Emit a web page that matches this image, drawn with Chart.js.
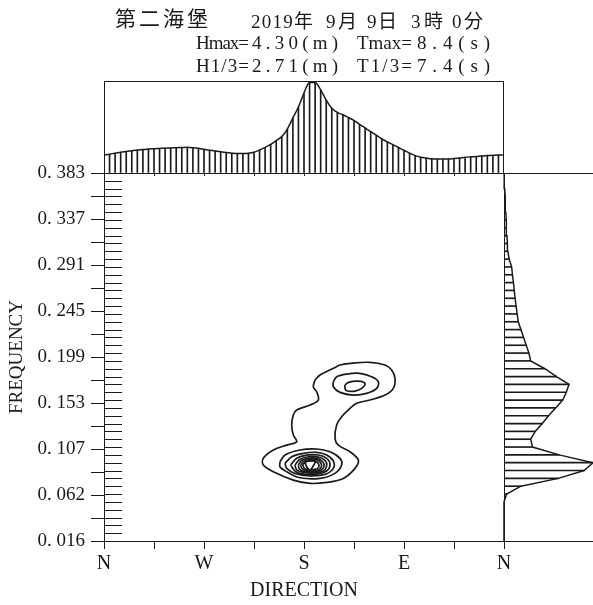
<!DOCTYPE html>
<html>
<head>
<meta charset="utf-8">
<script src="https://cdn.jsdelivr.net/npm/chart.js@4/dist/chart.umd.min.js"></script>
<style>
  html, body { margin: 0; padding: 0; background: #fff; }
  #wrap { position: relative; width: 593px; height: 605px; overflow: hidden; background: #fff; }
  canvas { position: absolute; }
  #main { left: 0; top: 0; }
  #dirPanel { left: 0; top: 0; }
  #freqPanel { left: 494px; top: 163px; }
  .t { position: absolute; white-space: pre; color: #1a1a1a;
       font-family: "Liberation Serif", "Noto Sans CJK JP", serif; font-size: 19px; line-height: 19px; }
  .cjk { font-family: "Noto Sans CJK JP", sans-serif; }
</style>
</head>
<body>
<div id="wrap">
  <canvas id="main" width="593" height="605"></canvas>
  <canvas id="dirPanel" width="593" height="178"></canvas>
  <canvas id="freqPanel" width="99" height="390"></canvas>

  <div class="t cjk" style="left:115px;top:7px;font-size:21px;line-height:21px" data-w="93">第二海堡</div>
  <div class="t" style="left:251px;top:12px" data-w="62">2019年</div>
  <div class="t" style="left:326px;top:12px" data-w="31">9月</div>
  <div class="t" style="left:367px;top:12px" data-w="30">9日</div>
  <div class="t" style="left:411px;top:12px" data-w="32">3時</div>
  <div class="t" style="left:452px;top:12px" data-w="31">0分</div>

  <div class="t" style="left:196px;top:33px" data-w="53">Hmax=</div>
  <div class="t" style="left:252px;top:33px" data-w="86">4.30(m)</div>
  <div class="t" style="left:357px;top:33px" data-w="55">Tmax=</div>
  <div class="t" style="left:417px;top:33px" data-w="73">8.4(s)</div>

  <div class="t" style="left:196px;top:56px" data-w="53">H1/3=</div>
  <div class="t" style="left:252px;top:56px" data-w="86">2.71(m)</div>
  <div class="t" style="left:357px;top:56px" data-w="55">T1/3=</div>
  <div class="t" style="left:417px;top:56px" data-w="73">7.4(s)</div>
</div>

<script>
// ---- frequency grid (Hz): bins of 1/128 Hz from 2/128 to 49/128 ----
const FMIN = 2 / 128;
const FMAX = 49 / 128;
const freqBins = [];
for (let k = 2; k <= 49; k++) freqBins.push(k / 128);

// normalised frequency spectrum, one value per frequency bin (low -> high)
const spectrum = [
  0, 0, 0, 0, 0, 0,
  0.03, 0.19, 0.61, 0.90, 1.00, 0.62, 0.32, 0.30, 0.35, 0.43,
  0.50, 0.58, 0.66, 0.70, 0.73, 0.59, 0.46, 0.30, 0.28, 0.25,
  0.22, 0.19, 0.16, 0.148, 0.136, 0.125, 0.115, 0.106, 0.095, 0.086,
  0.058, 0.043, 0.038, 0.033, 0.028, 0.024, 0.020, 0.016, 0.012, 0.008,
  0.004, 0
];

// ---- direction grid: 5 degree bins along the axis N - W - S - E - N ----
const dirBins = [];
for (let d = 0; d <= 360; d += 5) dirBins.push(d);

// normalised directional distribution, one value per direction bin
const dirDist = [
  0.196, 0.204, 0.216, 0.226, 0.234, 0.242, 0.250, 0.255, 0.260, 0.264,
  0.267, 0.270, 0.272, 0.275, 0.277, 0.279, 0.275, 0.268, 0.257, 0.248,
  0.239, 0.230, 0.222, 0.216, 0.212, 0.212, 0.215, 0.226, 0.249, 0.278,
  0.310, 0.352, 0.396, 0.478, 0.600, 0.717, 0.870, 0.985, 0.985, 0.904,
  0.792, 0.704, 0.658, 0.633, 0.603, 0.571, 0.529, 0.490, 0.450, 0.411,
  0.372, 0.338, 0.309, 0.277, 0.247, 0.216, 0.189, 0.172, 0.162, 0.154,
  0.152, 0.152, 0.152, 0.157, 0.163, 0.171, 0.176, 0.180, 0.186, 0.189,
  0.192, 0.195, 0.196
];

// ---- axis tick labels ----
const dirTickPos = [0, 45, 90, 135, 180, 225, 270, 315, 360];
const dirTickLabels = ['N', '', 'W', '', 'S', '', 'E', '', 'N'];
const freqTickLabels = ['0. 016', '0. 062', '0. 107', '0. 153', '0. 199',
                        '0. 245', '0. 291', '0. 337', '0. 383'];

// ---- contour rings of the directional spectrum: [direction, frequency] ----
const ringOuter = [
  [189.9,0.1762],[194.4,0.1812],[206.4,0.1879],[212.4,0.1912],[221.4,0.1929],
  [239.4,0.1939],[252.9,0.1912],[258.9,0.1862],[261.9,0.1779],[260.4,0.1679],
  [252.9,0.1612],[239.4,0.1563],[227.4,0.1530],[221.4,0.1480],[213.9,0.1396],
  [209.4,0.1313],[207.9,0.1180],[210.9,0.1113],[221.4,0.1047],[228.9,0.0964],
  [225.9,0.0881],[215.4,0.0781],[200.4,0.0741],[185.4,0.0731],[170.4,0.0764],
  [152.4,0.0847],[143.4,0.0914],[143.4,0.0981],[152.4,0.1064],[164.4,0.1113],
  [173.4,0.1146],[170.4,0.1213],[168.9,0.1313],[170.4,0.1413],[173.4,0.1463],
  [185.4,0.1513],[192.9,0.1563],[191.4,0.1645],[188.4,0.1695],[189.9,0.1762]
];
const ringUpper2 = [
  [206.4,0.1745],[209.4,0.1795],[218.4,0.1822],[230.4,0.1829],[240.9,0.1795],
  [246.9,0.1745],[245.4,0.1679],[236.4,0.1629],[224.4,0.1612],[212.4,0.1639],
  [206.4,0.1695],[206.4,0.1745]
];
const ringUpper3 = [
  [216.9,0.1712],[219.9,0.1739],[228.9,0.1752],[234.9,0.1729],[231.9,0.1679],
  [225.9,0.1652],[218.4,0.1655],[216.9,0.1679],[216.9,0.1712]
];
const ringLower2 = [
  [158.4,0.0947],[162.9,0.1014],[176.4,0.1064],[191.4,0.1074],[203.4,0.1047],
  [212.4,0.0981],[213.9,0.0914],[207.9,0.0831],[194.4,0.0781],[176.4,0.0787],
  [164.4,0.0847],[158.4,0.0897],[158.4,0.0947]
];
const ringLower3 = [
  [162.9,0.0931],[168.9,0.0997],[179.4,0.1031],[191.4,0.1041],[200.4,0.1014],
  [206.4,0.0954],[206.4,0.0881],[198.9,0.0821],[185.4,0.0807],[171.9,0.0831],
  [164.4,0.0881],[162.9,0.0931]
];
const ringLower4 = [
  [168.0,0.0914],[173.4,0.0981],[182.4,0.1014],[192.9,0.1014],[200.4,0.0981],
  [203.4,0.0921],[200.4,0.0854],[189.9,0.0821],[179.4,0.0824],[171.9,0.0854],
  [168.0,0.0914]
];
const ringLower5 = [
  [171.9,0.0914],[175.8,0.0967],[183.9,0.0997],[192.9,0.0994],[198.9,0.0961],
  [200.4,0.0907],[197.4,0.0854],[188.4,0.0834],[179.4,0.0841],[173.4,0.0867],
  [171.9,0.0914]
];
const ringLower6 = [
  [174.9,0.0914],[177.9,0.0961],[184.8,0.0984],[192.0,0.0981],[196.8,0.0947],
  [198.0,0.0901],[195.0,0.0861],[187.8,0.0844],[180.0,0.0851],[175.8,0.0877],
  [174.9,0.0914]
];
const ringLower7 = [
  [177.0,0.0914],[180.0,0.0954],[185.4,0.0971],[191.4,0.0967],[195.0,0.0937],
  [195.6,0.0894],[192.6,0.0864],[186.9,0.0854],[180.9,0.0861],[177.9,0.0884],
  [177.0,0.0914]
];
const ringLower8 = [
  [178.8,0.0914],[181.8,0.0947],[186.3,0.0957],[190.8,0.0951],[193.2,0.0924],
  [193.2,0.0891],[189.9,0.0871],[184.8,0.0867],[180.3,0.0881],[178.8,0.0914]
];
const ringLower9 = [
  [180.9,0.0947],[189.9,0.0954],[188.4,0.0907],[185.4,0.0864],[182.4,0.0897],
  [180.9,0.0947]
];
const contourRings = [ringOuter, ringUpper2, ringUpper3, ringLower2, ringLower3,
  ringLower4, ringLower5, ringLower6, ringLower7, ringLower8, ringLower9];

// ---------------------------------------------------------------------------
Chart.defaults.font.family = '"Liberation Serif", serif';
Chart.defaults.font.size = 19;
Chart.defaults.color = '#222';

const INK = '#1a1a1a';

// short frequency-bin markers along the inner left edge of the main panel
const binMarks = {
  id: 'binMarks',
  afterDatasetsDraw(chart) {
    const { ctx, chartArea, scales: { y } } = chart;
    ctx.save();
    ctx.strokeStyle = INK;
    ctx.lineWidth = 1;
    freqBins.forEach(f => {
      if (f <= FMIN || f >= FMAX) return;
      const py = Math.round(y.getPixelForValue(f)) + 0.5;
      ctx.beginPath();
      ctx.moveTo(chartArea.left, py);
      ctx.lineTo(chartArea.left + 18, py);
      ctx.stroke();
    });
    ctx.restore();
  }
};

// frame lines along chosen sides of a panel's plotting area
const makeFrame = (sides) => ({
  id: 'frame',
  afterDraw(chart) {
    const { ctx, chartArea: a } = chart;
    const L = Math.round(a.left), R = Math.round(a.right) - 1;
    const T = Math.round(a.top), B = Math.round(a.bottom);
    ctx.save();
    ctx.fillStyle = INK;
    if (sides.left)   ctx.fillRect(L, T, 1, B - T + 1);
    if (sides.right)  ctx.fillRect(R, T, 1, B - T + 1);
    if (sides.top)    ctx.fillRect(L, T, a.right - L, 1);
    if (sides.bottom) ctx.fillRect(L, B, a.right - L, 1);
    ctx.restore();
  }
});

const basePlugins = { legend: { display: false }, tooltip: { enabled: false } };

// main panel: direction x frequency contours
new Chart(document.getElementById('main'), {
  type: 'scatter',
  data: {
    datasets: contourRings.map(ring => ({
      data: ring.map(([d, f]) => ({ x: d, y: f })),
      showLine: true,
      borderColor: INK,
      borderWidth: 1.7,
      pointRadius: 0,
      tension: 0.35,
      fill: false
    }))
  },
  options: {
    responsive: false,
    animation: false,
    events: [],
    layout: { padding: { left: 0, top: 173, right: 89, bottom: 0 } },
    plugins: basePlugins,
    scales: {
      x: {
        type: 'linear', min: 0, max: 360, position: 'bottom',
        afterBuildTicks: s => { s.ticks = dirTickPos.map(v => ({ value: v })); },
        ticks: { autoSkip: false, maxRotation: 0, padding: 3, color: INK,
                 font: { size: 20 }, callback: (v, i) => dirTickLabels[i] },
        grid: { drawOnChartArea: false, drawTicks: true, tickLength: 8, color: INK, lineWidth: 1 },
        border: { display: true, color: INK, width: 1 },
        title: { display: true, text: 'DIRECTION', color: INK, font: { size: 20 },
                 padding: { top: 0, bottom: 2 } },
        afterFit: s => { s.height = 64; }
      },
      y: {
        type: 'linear', min: FMIN, max: FMAX, position: 'left',
        afterBuildTicks: s => {
          const t = [];
          for (let i = 0; i <= 16; i++) t.push({ value: FMIN + (FMAX - FMIN) * i / 16 });
          s.ticks = t;
        },
        ticks: { autoSkip: false, padding: 6, color: INK, font: { size: 19 },
                 callback: (v, i) => (i % 2 ? '' : freqTickLabels[i / 2]) },
        grid: { drawOnChartArea: false, drawTicks: true, tickLength: 13, color: INK, lineWidth: 1 },
        border: { display: true, color: INK, width: 1 },
        title: { display: true, text: 'FREQUENCY', color: INK, font: { size: 19 },
                 padding: { top: 6, bottom: 0 } },
        afterFit: s => { s.width = 104; }
      }
    }
  },
  plugins: [binMarks]
});

// axis that only carries the scale, drawing nothing itself
const quietAxis = (pos, extra) => Object.assign({
  position: pos,
  offset: false,
  ticks: { display: false },
  grid: { drawOnChartArea: false, drawTicks: false, offset: false },
  border: { display: false }
}, extra);

// top panel: directional distribution (hatched)
const dirPoints = dirBins.map((d, i) => ({ x: d, y: dirDist[i] }));
new Chart(document.getElementById('dirPanel'), {
  type: 'bar',
  data: {
    datasets: [
      { type: 'line', data: dirPoints, xAxisID: 'x', yAxisID: 'y',
        borderColor: INK, borderWidth: 1.5, pointRadius: 0,
        cubicInterpolationMode: 'monotone', fill: false },
      { type: 'bar', data: dirPoints, xAxisID: 'x', yAxisID: 'y',
        backgroundColor: INK, borderWidth: 0, barThickness: 1 }
    ]
  },
  options: {
    responsive: false,
    animation: false,
    events: [],
    layout: { padding: { left: 104, top: 81, right: 89, bottom: 5 } },
    plugins: basePlugins,
    scales: {
      x: {
        type: 'linear', min: 0, max: 360, position: 'bottom', offset: false,
        afterBuildTicks: s => { s.ticks = dirTickPos.map(v => ({ value: v })); },
        ticks: { display: false },
        grid: { drawOnChartArea: false, drawTicks: true, tickLength: 3, color: INK, offset: false },
        border: { display: true, color: INK, width: 1 },
        afterFit: s => { s.height = 0; }
      },
      y: quietAxis('left', { axis: 'y', type: 'linear', min: 0, max: 1,
                            afterFit: s => { s.width = 0; } })
    }
  },
  plugins: [makeFrame({ left: true, right: true, top: true })]
});

// right panel: frequency spectrum (hatched)
const specPoints = freqBins.map((f, i) => ({ x: spectrum[i], y: f }));
new Chart(document.getElementById('freqPanel'), {
  type: 'bar',
  data: {
    datasets: [
      { type: 'line', data: specPoints, xAxisID: 'x', yAxisID: 'y', indexAxis: 'y',
        borderColor: INK, borderWidth: 1.5, pointRadius: 0, tension: 0, fill: false, clip: false },
      { type: 'bar', data: specPoints, xAxisID: 'x', yAxisID: 'y', indexAxis: 'y',
        backgroundColor: INK, borderWidth: 0, barThickness: 1 }
    ]
  },
  options: {
    indexAxis: 'y',
    responsive: false,
    animation: false,
    events: [],
    layout: { padding: { left: 10, top: 10, right: 0, bottom: 12 } },
    plugins: basePlugins,
    scales: {
      x: quietAxis('bottom', { axis: 'x', type: 'linear', min: 0, max: 1,
                              afterFit: s => { s.height = 0; } }),
      y: quietAxis('left', { axis: 'y', type: 'linear', min: FMIN, max: FMAX,
                            afterFit: s => { s.width = 0; } })
    }
  },
  plugins: [makeFrame({ left: true, top: true, bottom: true })]
});

// header text: spread each token over its slot
document.querySelectorAll('[data-w]').forEach(el => {
  const natural = el.getBoundingClientRect().width;
  const n = el.textContent.length;
  if (n > 1) el.style.letterSpacing = ((+el.dataset.w - natural) / (n - 1)) + 'px';
});
</script>
</body>
</html>
